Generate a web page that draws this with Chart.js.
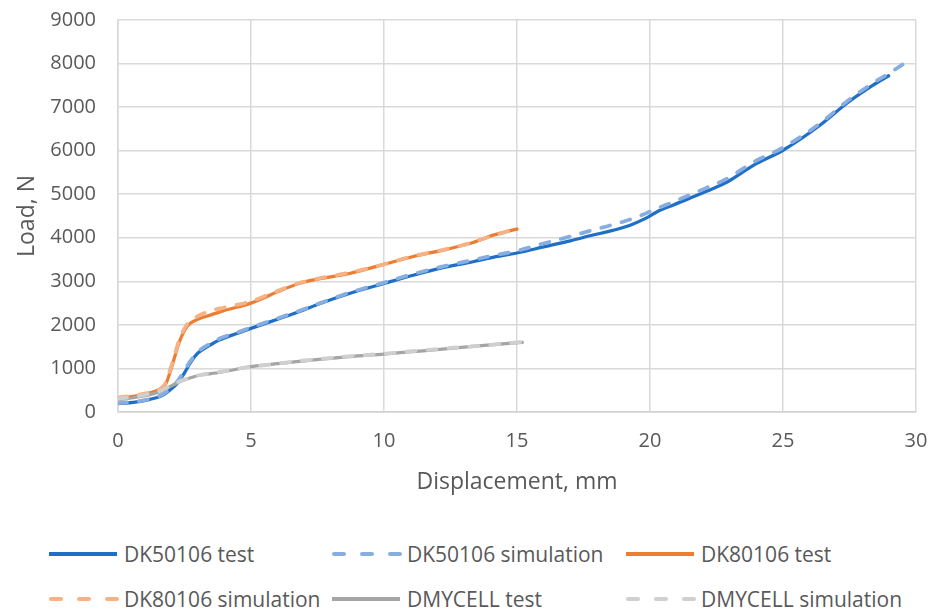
<!DOCTYPE html>
<html><head><meta charset="utf-8">
<script src="https://cdn.jsdelivr.net/npm/chart.js@4/dist/chart.umd.min.js"></script>
<style>
html,body{margin:0;padding:0;background:#fff;}
#wrap{position:relative;width:938px;height:614px;overflow:hidden;}
#cw{position:absolute;left:0;top:0;width:938px;height:500px;}
#legend{position:absolute;left:47px;top:531px;display:grid;grid-template-columns:283px 294px auto;grid-auto-rows:45px;align-items:center;font-family:"Open Sans",sans-serif;font-size:21px;color:#595959;}
.li{display:flex;align-items:center;white-space:nowrap;}
.li svg{margin-right:5px;}
</style></head>
<body><div id="wrap"><div id="cw"><canvas id="c"></canvas></div><div id="legend"></div></div>
<script>
// ---- data ----
const dk50TestX = [0,0.8,1.2,1.6,1.9,2.2,2.5,2.7,3.0,3.5,3.8,4.5,5.0,6.0,6.8,7.6,8.7,10,11.1,12.35,13.35,14.0,15.0,16.0,17.0,17.86,18.6,19.3,19.85,20.3,20.9,22.1,22.9,23.9,25,26.4,27.4,28.4,28.97];
const dk50TestY = [190,240,290,360,480,640,900,1110,1350,1550,1650,1810,1920,2130,2300,2490,2720,2950,3140,3330,3450,3540,3650,3790,3930,4063,4170,4300,4450,4610,4760,5060,5280,5670,6010,6590,7090,7510,7720];
const dk50SimX = [0,0.8,1.2,1.6,1.9,2.2,2.5,2.7,3.0,3.5,3.8,4.5,5.0,6.0,6.8,7.6,8.7,10,11.1,12.35,13.35,14.0,15.0,16.0,17.0,17.86,18.6,19.3,19.85,20.3,20.9,22.1,22.9,23.9,25,26.4,27.4,28.4,29.0,29.8];
const dk50SimY = [200,250,300,380,500,680,950,1150,1380,1580,1680,1830,1940,2150,2320,2500,2740,2970,3170,3360,3490,3580,3700,3870,4030,4180,4300,4430,4560,4680,4830,5140,5360,5740,6070,6630,7130,7560,7780,8100];
const dk80TestX = [0,0.8,1.2,1.6,1.8,1.95,2.1,2.3,2.5,2.7,3.0,3.5,4.0,5.0,6.0,6.8,7.5,8.7,10,11.1,12.35,13.35,14.1,14.6,15.0];
const dk80TestY = [310,380,440,530,650,900,1200,1600,1870,2030,2130,2230,2330,2500,2760,2950,3050,3180,3390,3570,3735,3890,4060,4140,4200];
const dk80SimX = [0,0.8,1.2,1.6,1.8,1.95,2.1,2.3,2.5,2.7,3.0,3.5,4.0,5.0,6.0,6.8,7.5,8.7,10,11.1,12.35,13.35,14.1,14.6,15.0];
const dk80SimY = [330,400,450,540,680,950,1250,1650,1920,2080,2200,2330,2400,2540,2780,2960,3060,3200,3390,3580,3740,3900,4050,4140,4220];
const dmyTestX = [0,0.8,1.2,1.6,2.0,2.3,2.7,3.1,3.5,4,5,6,6.8,8.7,10,11.35,12.5,14,15.2];
const dmyTestY = [280,350,400,470,600,690,780,850,880,930,1040,1110,1160,1270,1330,1400,1460,1540,1600];
const dmySimX = [0,0.8,1.2,1.6,2.0,2.3,2.7,3.1,3.5,4,5,6,6.8,8.7,10,11.35,12.5,14,15.2];
const dmySimY = [300,370,420,490,610,700,790,850,890,940,1040,1110,1170,1280,1340,1410,1470,1540,1610];
const seriesNames = ["DK50106 test","DK50106 simulation","DK80106 test","DK80106 simulation","DMYCELL test","DMYCELL simulation"];
const xTitle = "Displacement, mm";
const yTitle = "Load, N";

const pts = (xs, ys) => xs.map((x, i) => ({x, y: ys[i]}));
const colors = ["#1f6fc8","#86aee0","#ed7d31","#f6b185","#a5a5a5","#cfcfcf"];
const dashed = [false,true,false,true,false,true];
const raw = [[dk50TestX,dk50TestY],[dk50SimX,dk50SimY],[dk80TestX,dk80TestY],[dk80SimX,dk80SimY],[dmyTestX,dmyTestY],[dmySimX,dmySimY]];

const datasets = raw.map((r, i) => ({
  label: seriesNames[i],
  data: pts(r[0], r[1]),
  borderColor: colors[i],
  backgroundColor: colors[i],
  borderWidth: dashed[i] ? 3.75 : 3.25,
  borderDash: dashed[i] ? [9, 12] : [],
  borderCapStyle: 'round',
  pointRadius: 0,
  fill: false,
  cubicInterpolationMode: 'monotone',
  order: 6 - i
}));

const tickFont = {family: "Open Sans", size: 20};
const titleFont = {family: "Open Sans", size: 23};
new Chart(document.getElementById('c'), {
  type: 'line',
  data: {datasets},
  options: {
    responsive: true, maintainAspectRatio: false, animation: false,
    layout: {padding: {left: 0, right: 22, top: 20, bottom: 0}},
    plugins: {legend: {display: false}, tooltip: {enabled: false}},
    scales: {
      x: {
        type: 'linear', min: 0, max: 30,
        ticks: {stepSize: 5, color: '#595959', font: tickFont, padding: 17, maxRotation: 0, format: {useGrouping: false}},
        grid: {color: '#d9d9d9', lineWidth: 1.5, drawTicks: false},
        border: {color: '#d0d0d0', width: 1.5},
        title: {display: true, text: xTitle, color: '#595959', font: titleFont, padding: {top: 0, bottom: 4}},
        afterFit: s => { s.height = 88; s.paddingLeft = 0; s.paddingRight = 0; }
      },
      y: {
        min: 0, max: 9000,
        ticks: {stepSize: 1000, color: '#595959', font: tickFont, padding: 22, format: {useGrouping: false}},
        grid: {color: '#d9d9d9', lineWidth: 1.5, drawTicks: false},
        border: {color: '#d9d9d9', width: 1.5},
        title: {display: true, text: yTitle, color: '#595959', font: titleFont, padding: {top: 14, bottom: 0}},
        afterFit: s => { s.width = 118; s.paddingTop = 0; s.paddingBottom = 0; }
      }
    }
  }
});

// HTML legend built from datasets
const lg = document.getElementById('legend');
datasets.forEach((d, i) => {
  const item = document.createElement('div');
  item.className = 'li';
  const svgNS = 'http://www.w3.org/2000/svg';
  const svg = document.createElementNS(svgNS, 'svg');
  svg.setAttribute('width', '72'); svg.setAttribute('height', '10');
  const ln = document.createElementNS(svgNS, 'line');
  ln.setAttribute('x1', '2'); ln.setAttribute('x2', '70');
  ln.setAttribute('y1', '5'); ln.setAttribute('y2', '5');
  ln.setAttribute('stroke', d.borderColor);
  ln.setAttribute('stroke-width', '4');
  if (dashed[i]) { ln.setAttribute('stroke-dasharray', '10 18'); ln.setAttribute('stroke-linecap', 'round'); ln.setAttribute('x1','4'); ln.setAttribute('x2','70'); }
  svg.appendChild(ln);
  const sp = document.createElement('span');
  sp.textContent = d.label;
  item.appendChild(svg); item.appendChild(sp);
  lg.appendChild(item);
});
</script>
</body></html>
